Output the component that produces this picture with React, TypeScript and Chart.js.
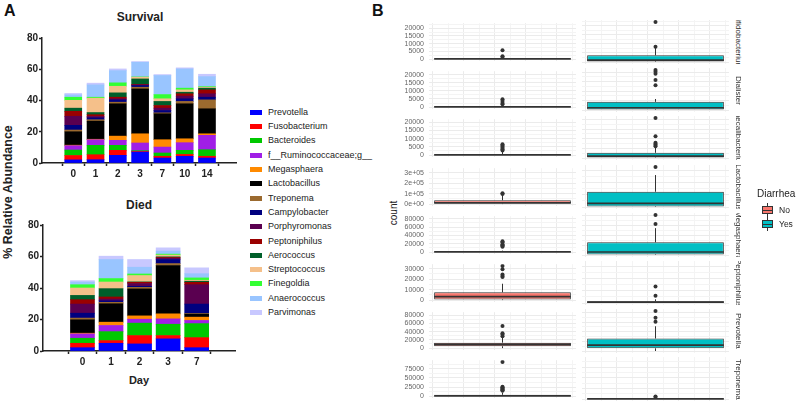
import React, { useEffect, useRef } from 'react';
import { Chart, registerables } from 'chart.js';

Chart.register(...registerables);

const FONT = '"Liberation Sans", Arial, Helvetica, sans-serif';

// ---------- Panel A data ----------
const genera = [
  'Prevotella', 'Fusobacterium', 'Bacteroides', 'f__Ruminococcaceae;g__', 'Megasphaera',
  'Lactobacillus', 'Treponema', 'Campylobacter', 'Porphyromonas', 'Peptoniphilus',
  'Aerococcus', 'Streptococcus', 'Finegoldia', 'Anaerococcus', 'Parvimonas',
];
const generaColors = [
  '#0000ff', '#ff0000', '#00c800', '#a01ee6', '#ff8a00',
  '#000000', '#9b6a2f', '#00007f', '#5a0050', '#9a0000',
  '#005f2a', '#f5c08a', '#33ff33', '#99c5ff', '#c8c8ff',
];
const survivalDays = ['0', '1', '2', '3', '7', '10', '14'];
const diedDays = ['0', '1', '2', '3', '7'];

// rows = genera (same order), columns = days
const survivalAbundance = [
  [2.0, 2.1, 4.9, 7.0, 3.2, 4.3, 3.2],
  [2.8, 3.2, 3.2, 0.4, 1.1, 1.2, 1.1],
  [3.5, 6.0, 3.2, 0.5, 2.1, 2.6, 4.2],
  [2.8, 3.6, 3.2, 4.9, 3.8, 4.9, 9.2],
  [0.3, 0.3, 2.7, 5.9, 4.7, 2.5, 1.0],
  [8.6, 11.6, 20.7, 28.7, 16.6, 22.4, 16.0],
  [1.1, 0.9, 1.0, 1.1, 0.6, 1.5, 5.7],
  [3.0, 1.2, 1.5, 1.1, 1.5, 1.7, 1.7],
  [5.8, 0.9, 0.7, 0.4, 1.5, 1.7, 2.2],
  [3.2, 1.1, 1.0, 0.3, 1.7, 1.5, 2.5],
  [2.0, 1.4, 2.8, 3.5, 2.6, 1.0, 1.1],
  [5.0, 9.2, 4.2, 1.1, 1.7, 1.5, 0.6],
  [2.0, 0.6, 2.2, 0.2, 2.7, 1.1, 0.4],
  [1.5, 7.9, 7.8, 9.4, 12.2, 12.3, 6.4],
  [0.9, 1.1, 1.1, 0.4, 0.6, 0.7, 1.5],
];
const diedAbundance = [
  [2.1, 4.9, 4.5, 7.7, 2.1],
  [2.8, 1.7, 5.3, 2.1, 6.4],
  [3.2, 5.7, 7.9, 7.2, 8.9],
  [2.8, 3.9, 2.5, 3.4, 2.0],
  [0.4, 2.1, 2.1, 3.2, 2.1],
  [8.5, 11.7, 17.1, 30.7, 1.9],
  [1.1, 0.9, 1.0, 1.2, 0.4],
  [3.1, 1.0, 0.7, 2.6, 6.0],
  [5.8, 1.1, 1.7, 0.8, 12.3],
  [2.8, 1.3, 0.8, 0.5, 1.5],
  [2.7, 5.3, 0.3, 0.4, 0.7],
  [4.7, 4.2, 4.0, 1.1, 0.6],
  [2.1, 2.2, 1.0, 0.6, 1.5],
  [1.7, 12.1, 4.3, 1.9, 2.7],
  [0.9, 2.1, 4.9, 2.1, 3.7],
];
const abundanceTicks = [0, 20, 40, 60, 80];

// ---------- Panel B data ----------
const facetRows = [
  'Bifidobacterium', 'Dialister', 'Faecalibacterium', 'Lactobacillus',
  'Megasphaera', 'Peptoniphilus', 'Prevotella', 'Treponema',
];
const diarrheaGroups = ['No', 'Yes'];
const diarrheaColors = ['#F8766D', '#00BFC4'];
// [lower whisker, q1, median, q3, upper whisker]
const noStats = [
  [0, 0, 100, 400, 900],
  [0, 0, 150, 700, 1400],
  [0, 0, 100, 500, 2000],
  [0, 4000, 13000, 37000, 90000],
  [0, 0, 300, 1500, 3500],
  [0, 600, 3300, 7400, 15600],
  [0, 4500, 9000, 13200, 26000],
  [0, 0, 500, 3500, 9000],
];
const yesStats = [
  [0, 300, 1000, 3700, 8000],
  [0, 300, 1200, 4300, 5800],
  [0, 200, 1000, 2700, 5500],
  [0, 4000, 30000, 125000, 262000],
  [0, 1000, 6200, 26000, 55000],
  [0, 200, 700, 1500, 3000],
  [0, 5600, 12400, 26000, 51500],
  [0, 0, 200, 1000, 2000],
];
const noOutliers = [
  [5800, 1900, 1300],
  [4800, 3800, 2600, 1700],
  [6500, 5800, 5000, 4300, 3500, 2800],
  [105000, 98000],
  [26000, 23500, 19000, 16500, 14500, 13000],
  [32600, 29300, 24500, 23000, 22000],
  [54000, 36000, 33000, 29000],
  [94400, 26000, 24000, 22000, 20000, 18000, 16000, 14500],
];
const yesOutliers = [
  [8500, 22200],
  [21100, 20200, 19100, 15800, 13100],
  [20700, 11200, 7900, 7300, 6700, 6100],
  [328000],
  [82000, 63500],
  [13400, 6000],
  [83300, 69000, 61000],
  [6000, 4500],
];
const rowTickStep = [5000, 5000, 5000, 100000, 20000, 10000, 20000, 25000];
const rowScientific = [false, false, false, true, false, false, false, false];

// ---------- helpers ----------
function sci(v: number) {
  if (v === 0) return '0e+00';
  const [m, e] = v.toExponential(0).split('e');
  return m + 'e' + e[0] + e.slice(1).padStart(2, '0');
}

function ChartCanvas({ make, left, top, width, height }: any) {
  const ref = useRef<HTMLCanvasElement>(null);
  useEffect(() => {
    const chart = new Chart(ref.current as HTMLCanvasElement, make());
    return () => chart.destroy();
  }, []);
  return (
    <canvas
      ref={ref}
      width={width}
      height={height}
      style={{ position: 'absolute', left, top, width, height, display: 'block' }}
    />
  );
}

function stackedConfig(days: string[], values: number[][], xMin: number, xMax: number, barThickness: number, yWidth: number) {
  return {
    type: 'bar',
    data: {
      datasets: genera.map((g, gi) => ({
        label: g,
        data: values[gi].map((v, di) => ({ x: di, y: v })),
        backgroundColor: generaColors[gi],
        borderWidth: 0,
        barThickness,
        stack: 's',
      })),
    },
    options: {
      animation: false,
      responsive: false,
      maintainAspectRatio: false,
      layout: { autoPadding: false, padding: { top: 8, right: 4, left: 0, bottom: 2 } },
      plugins: { legend: { display: false }, tooltip: { enabled: false } },
      scales: {
        x: {
          type: 'linear',
          stacked: true,
          min: xMin,
          max: xMax,
          afterBuildTicks: (a: any) => { a.ticks = days.map((_, i) => ({ value: i })); },
          ticks: {
            callback: (v: number) => days[v],
            font: { family: FONT, size: 10, weight: 'bold' },
            color: '#222',
            padding: 2,
            maxRotation: 0,
            autoSkip: false,
          },
          grid: { drawOnChartArea: false, tickLength: 3, tickColor: '#222', tickWidth: 1.5 },
          border: { color: '#222', width: 1.5 },
          afterFit: (s: any) => { s.height = 25; },
        },
        y: {
          stacked: true,
          min: 0,
          max: 80,
          afterBuildTicks: (a: any) => { a.ticks = abundanceTicks.map((v) => ({ value: v })); },
          ticks: {
            font: { family: FONT, size: 10, weight: 'bold' },
            color: '#222',
            padding: 1,
          },
          grid: { drawOnChartArea: false, tickLength: 3, tickColor: '#222', tickWidth: 1.5 },
          border: { color: '#222', width: 1.5 },
          afterFit: (s: any) => { s.width = yWidth; },
        },
      },
    },
  };
}

const medianPlugin = {
  id: 'median',
  afterDatasetsDraw(chart: any, _args: any, opts: any) {
    const bar = chart.getDatasetMeta(2).data[0];
    if (!bar) return;
    const y = chart.scales.y.getPixelForValue(opts.value);
    const ctx = chart.ctx;
    ctx.save();
    ctx.strokeStyle = '#333';
    ctx.lineWidth = 1.7;
    ctx.beginPath();
    ctx.moveTo(bar.x - bar.width / 2, y);
    ctx.lineTo(bar.x + bar.width / 2, y);
    ctx.stroke();
    ctx.restore();
  },
};

function boxConfig(row: number, side: number, showY: boolean) {
  const st = side === 0 ? noStats[row] : yesStats[row];
  const out = side === 0 ? noOutliers[row] : yesOutliers[row];
  const all = [...noStats[row], ...yesStats[row], ...noOutliers[row], ...yesOutliers[row]];
  const hi = Math.max(...all);
  const lo = Math.min(...all);
  const span = hi - lo;
  const yMin = lo - 0.05 * span;
  const yMax = hi + 0.05 * span;
  const step = rowTickStep[row];
  const lab = diarrheaGroups[side];
  const isMajorY = (v: number) => Math.abs(v / step - Math.round(v / step)) < 1e-6;
  const isMajorX = (v: number) => Math.abs(v / 0.2 - Math.round(v / 0.2)) < 1e-6;
  return {
    type: 'bar',
    data: {
      labels: [lab],
      datasets: [
        {
          type: 'line', xAxisID: 'x', yAxisID: 'y',
          data: [{ x: lab, y: st[3] }, { x: lab, y: st[4] }],
          borderColor: '#333', borderWidth: 1, pointRadius: 0, order: 3,
        },
        {
          type: 'line', xAxisID: 'x', yAxisID: 'y',
          data: [{ x: lab, y: st[0] }, { x: lab, y: st[1] }],
          borderColor: '#333', borderWidth: 1, pointRadius: 0, order: 3,
        },
        {
          type: 'bar', xAxisID: 'x', yAxisID: 'y',
          data: [[st[1], st[3]]],
          backgroundColor: diarrheaColors[side],
          borderColor: '#333', borderWidth: 1, borderSkipped: false,
          barPercentage: 0.93, categoryPercentage: 1, order: 2,
        },
        {
          type: 'line', xAxisID: 'x', yAxisID: 'y', showLine: false,
          data: out.map((v) => ({ x: lab, y: v })),
          pointRadius: 2, pointBackgroundColor: '#333', pointBorderWidth: 0, order: 1,
        },
      ],
    },
    plugins: [medianPlugin],
    options: {
      animation: false,
      responsive: false,
      maintainAspectRatio: false,
      layout: { autoPadding: false, padding: { top: 6, bottom: 6, left: 0, right: 0 } },
      plugins: { legend: { display: false }, tooltip: { enabled: false }, median: { value: st[2] } },
      scales: {
        x: { type: 'category', display: false, offset: true },
        xg: {
          type: 'linear', position: 'bottom', min: -0.42, max: 0.42,
          afterBuildTicks: (a: any) => {
            const t = [];
            for (let k = -4; k <= 4; k++) t.push({ value: k / 10 });
            a.ticks = t;
          },
          ticks: { display: false },
          grid: {
            drawTicks: false,
            color: (c: any) => (c.tick && isMajorX(c.tick.value) ? '#ebebeb' : '#f4f4f4'),
            lineWidth: 1,
          },
          border: { display: false },
          afterFit: (s: any) => { s.height = 0; },
        },
        y: {
          min: yMin,
          max: yMax,
          afterBuildTicks: (a: any) => {
            const t = [];
            for (let v = 0; v <= yMax; v += step / 2) t.push({ value: v });
            a.ticks = t;
          },
          ticks: {
            display: showY,
            font: { family: FONT, size: 7 },
            color: '#666',
            padding: 5,
            autoSkip: false,
            callback: (v: number) => (isMajorY(v) ? (rowScientific[row] ? sci(v) : String(v)) : ''),
          },
          grid: {
            drawTicks: false,
            color: (c: any) => (c.tick && isMajorY(c.tick.value) ? '#ebebeb' : '#f4f4f4'),
            lineWidth: 1,
          },
          border: { display: false },
          afterFit: (s: any) => { s.width = showY ? 49 : 0; },
        },
      },
    },
  };
}

const text = (s: React.CSSProperties): React.CSSProperties => ({
  position: 'absolute', fontFamily: FONT, whiteSpace: 'nowrap', lineHeight: 1, ...s,
});

export default function App() {
  const rowTop = (i: number) => Math.round(20 + 48.2 * i);
  return (
    <div style={{ position: 'absolute', left: 0, top: 0, width: 800, height: 406, background: '#fff', overflow: 'hidden' }}>
      {/* Panel A */}
      <div style={text({ left: 4, top: 3, fontSize: 16, fontWeight: 'bold', color: '#111' })}>A</div>
      <div style={text({ left: 140, top: 17, transform: 'translate(-50%,-50%)', fontSize: 12, fontWeight: 'bold', color: '#222' })}>Survival</div>
      <div style={text({ left: 139, top: 205, transform: 'translate(-50%,-50%)', fontSize: 12, fontWeight: 'bold', color: '#222' })}>Died</div>
      <div style={text({ left: 139, top: 380, transform: 'translate(-50%,-50%)', fontSize: 11, fontWeight: 'bold', color: '#222' })}>Day</div>
      <div style={text({ left: 8, top: 192, transform: 'translate(-50%,-50%) rotate(-90deg)', fontSize: 12.5, fontWeight: 'bold', color: '#222' })}>% Relative Abundance</div>
      <ChartCanvas left={0} top={30} width={240} height={160}
        make={() => stackedConfig(survivalDays, survivalAbundance, -0.78, 6.68, 17, 42)} />
      <ChartCanvas left={0} top={217} width={239} height={161}
        make={() => stackedConfig(diedDays, diedAbundance, -0.71, 4.67, 24, 43)} />
      {genera.map((g, i) => (
        <div key={g} style={text({ left: 250, top: 112.3 + 14.3 * i - 6, height: 12, display: 'flex', alignItems: 'center', fontSize: 9, color: '#222' })}>
          <span style={{ display: 'inline-block', width: 12, height: 5, background: generaColors[i], marginRight: 6 }} />
          {g}
        </div>
      ))}

      {/* Panel B */}
      <div style={text({ left: 372, top: 3, fontSize: 16, fontWeight: 'bold', color: '#111' })}>B</div>
      <div style={text({ left: 394, top: 213, transform: 'translate(-50%,-50%) rotate(-90deg)', fontSize: 10, color: '#222' })}>count</div>
      {facetRows.map((name, r) => (
        <React.Fragment key={name}>
          <ChartCanvas left={380} top={rowTop(r) - 6} width={196} height={56} make={() => boxConfig(r, 0, true)} />
          <ChartCanvas left={582} top={rowTop(r) - 6} width={147} height={56} make={() => boxConfig(r, 1, false)} />
          <div style={{ position: 'absolute', left: 731, top: rowTop(r), width: 14, height: 44, overflow: 'hidden', display: 'flex', justifyContent: 'center', alignItems: 'center' }}>
            <div style={{ writingMode: 'vertical-rl', fontFamily: FONT, fontSize: 8, color: '#333', whiteSpace: 'nowrap', lineHeight: 1, flexShrink: 0 }}>{name}</div>
          </div>
        </React.Fragment>
      ))}
      <div style={text({ left: 757, top: 189, fontSize: 10, color: '#222' })}>Diarrhea</div>
      {diarrheaGroups.map((g, i) => (
        <React.Fragment key={g}>
          <div style={{ position: 'absolute', left: 767, top: 203 + 14 * i, width: 1, height: 14, background: '#333' }} />
          <div style={{ position: 'absolute', left: 762, top: 206 + 14 * i, width: 9, height: 6, background: diarrheaColors[i], border: '1px solid #333' }} />
          <div style={{ position: 'absolute', left: 762, top: 209.5 + 14 * i, width: 11, height: 1, background: '#333' }} />
          <div style={text({ left: 779, top: 206 + 14 * i, fontSize: 8.5, color: '#222' })}>{g}</div>
        </React.Fragment>
      ))}
    </div>
  );
}
